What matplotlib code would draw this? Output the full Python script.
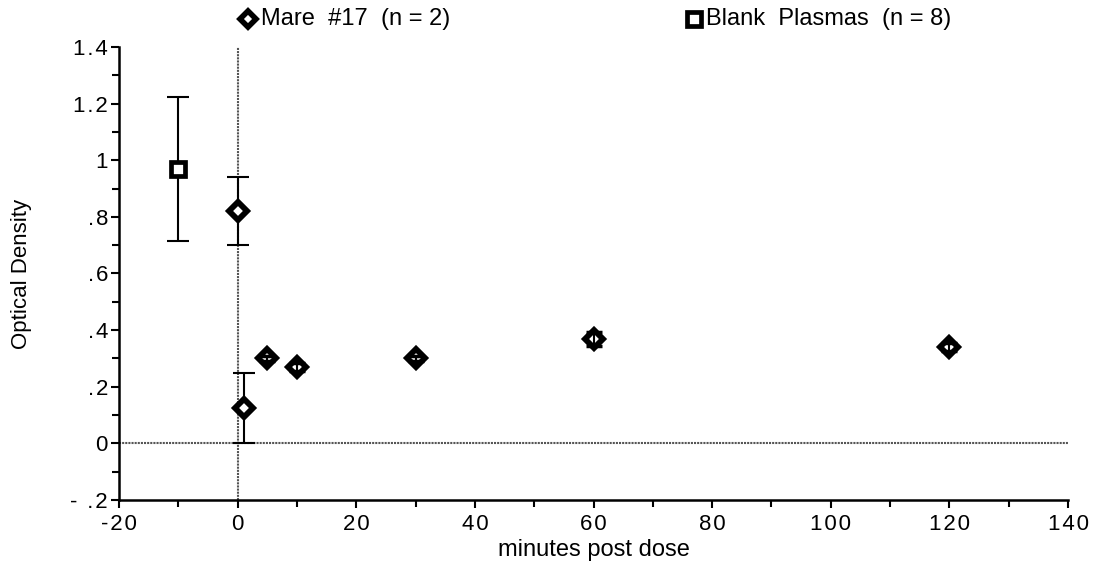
import matplotlib
matplotlib.use("Agg")
import matplotlib.pyplot as plt
from matplotlib.lines import Line2D
import numpy as np

plt.rcParams['font.family'] = ['Liberation Sans', 'DejaVu Sans']

# Data
mare_x = [0, 1, 5, 10, 30, 60, 120]
mare_y = [0.82, 0.125, 0.30, 0.27, 0.30, 0.37, 0.34]
mare_err = [0.12, 0.125, 0.008, 0.015, 0.008, 0.025, 0.015]

blank_x = [-10]
blank_y = [0.97]
blank_err = [0.255]

x_ticks = [-20, 0, 20, 40, 60, 80, 100, 120, 140]
x_ticklabels = ["-20", "0", "20", "40", "60", "80", "100", "120", "140"]
y_ticks = [-0.2, 0, 0.2, 0.4, 0.6, 0.8, 1.0, 1.2, 1.4]
y_ticklabels = ["- .2", "0", ".2", ".4", ".6", ".8", "1", "1.2", "1.4"]

mare_label = "Mare  #17  (n = 2)"
blank_label = "Blank  Plasmas  (n = 8)"

SP = "\u200a"


def spaced(s):
    return SP.join(s)


fig = plt.figure(figsize=(10.96, 5.68), dpi=100)
ax = fig.add_axes([0.1086, 0.1197, 0.8659, 0.7976])

ax.set_xlim(-20, 140)
ax.set_ylim(-0.2, 1.4)

# zero reference lines
ax.axhline(0, color='#555555', lw=1.5, ls=(0, (1, 0.5)), zorder=1)
ax.axvline(0, color='#555555', lw=1.5, ls=(0, (1, 0.5)), zorder=1)

mx = np.array(mare_x); my = np.array(mare_y); me = np.array(mare_err)
bmask = me > 0.05
ax.errorbar(mx[bmask], my[bmask], yerr=me[bmask], fmt='none', ecolor='black',
            elinewidth=1.5, capsize=8, capthick=1.5, zorder=2)
ax.plot(mare_x, mare_y, 'D', ms=9, mfc='white', mec='black', mew=4.2, zorder=3)
ax.errorbar(mx[~bmask], my[~bmask], yerr=me[~bmask], fmt='none', ecolor='black',
            elinewidth=1.5, capsize=5.5, capthick=2.5, zorder=4)

ax.errorbar(blank_x, blank_y, yerr=blank_err, fmt='none', ecolor='black',
            elinewidth=1.5, capsize=8, capthick=1.5, zorder=2)
ax.plot(blank_x, blank_y, 's', ms=10.5, mfc='white', mec='black', mew=3.4, zorder=3)

for s in ['top', 'right']:
    ax.spines[s].set_visible(False)
for s in ['left', 'bottom']:
    ax.spines[s].set_linewidth(1.8)

ax.set_xticks(x_ticks)
ax.set_xticklabels([spaced(t) for t in x_ticklabels])
ax.set_yticks(y_ticks)
ax.set_yticklabels([spaced(t) for t in y_ticklabels])
ax.set_xticks(np.arange(-20, 141, 10), minor=True)
ax.set_yticks(np.arange(-0.2, 1.41, 0.1), minor=True)
ax.tick_params(axis='both', which='major', direction='out', length=6, width=1.5,
               labelsize=16)
ax.tick_params(axis='x', which='major', pad=4)
ax.tick_params(axis='y', which='major', pad=2)
ax.tick_params(axis='both', which='minor', direction='out', length=5, width=1.5)

ax.set_xlabel("minutes post dose", fontsize=17)
ax.xaxis.set_label_coords(0.5, -0.085)
ax.set_ylabel("Optical Density", fontsize=16)
ax.yaxis.set_label_coords(-0.092, 0.5)

# legend entries at top
ly = 1 - 19 / 568
fig.add_artist(Line2D([248 / 1096], [ly], transform=fig.transFigure,
                      marker='D', ms=8.5, mfc='white', mec='black', mew=4.0, ls='none'))
fig.text(261 / 1096, ly, mare_label, fontsize=17, va='center', ha='left')
fig.add_artist(Line2D([694 / 1096], [ly], transform=fig.transFigure,
                      marker='s', ms=9.5, mfc='white', mec='black', mew=3.4, ls='none'))
fig.text(706 / 1096, ly, blank_label, fontsize=17, va='center', ha='left')

fig.savefig("out.png", dpi=100)
